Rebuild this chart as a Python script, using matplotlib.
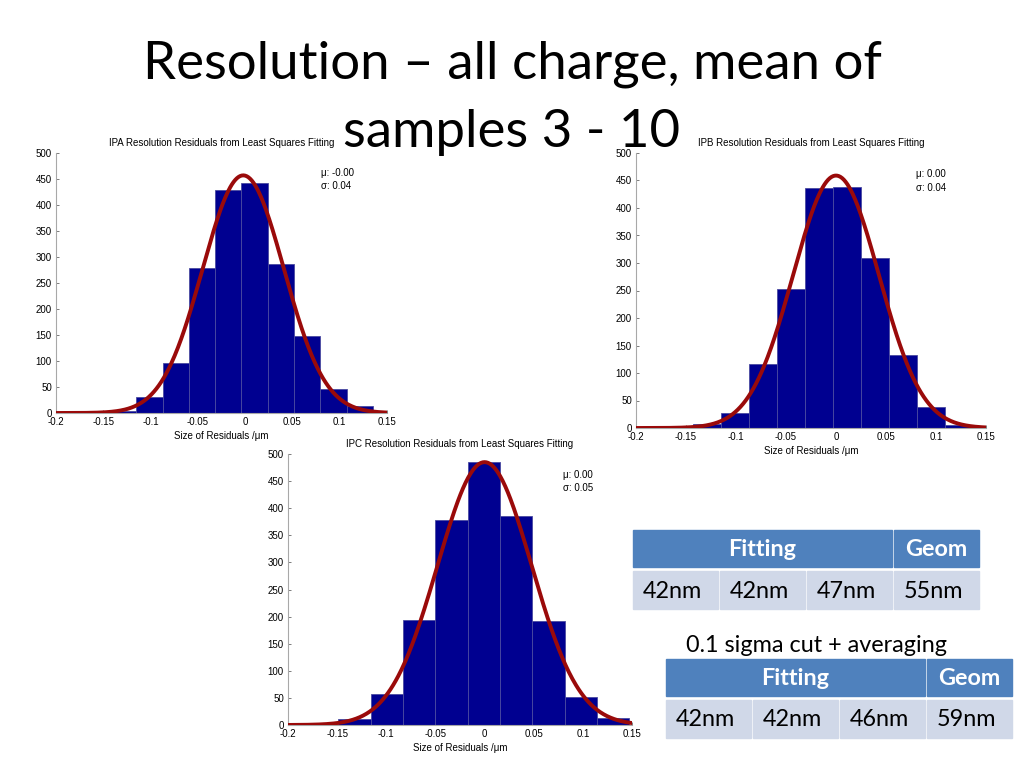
import numpy as np
import matplotlib
matplotlib.use("Agg")
import matplotlib.pyplot as plt
from matplotlib.patches import Rectangle

# ---------------- data ----------------
title_line1 = "Resolution \u2013 all charge, mean of"
title_line2 = "samples 3 - 10"

xtick_vals = [-0.2, -0.15, -0.1, -0.05, 0, 0.05, 0.1, 0.15]
xtick_labels = ["-0.2", "-0.15", "-0.1", "-0.05", "0", "0.05", "0.1", "0.15"]
ytick_vals = [0, 50, 100, 150, 200, 250, 300, 350, 400, 450, 500]

ipa_centers = [-0.1290, -0.1012, -0.0734, -0.0456, -0.0178, 0.0100, 0.0378, 0.0656, 0.0934, 0.1212]
ipa_counts = [4, 30, 96, 279, 428, 443, 286, 148, 46, 13]
ipa_fit = dict(peak=457, mu=-0.002, sigma=0.0430)
ipa_text = ["\u03bc: -0.00", "\u03c3: 0.04"]

ipb_centers = [-0.1294, -0.1014, -0.0734, -0.0454, -0.0174, 0.0106, 0.0386, 0.0666, 0.0946, 0.1226]
ipb_counts = [7, 28, 117, 252, 437, 439, 309, 132, 38, 6]
ipb_fit = dict(peak=459, mu=0.000, sigma=0.0429)
ipb_text = ["\u03bc: 0.00", "\u03c3: 0.04"]

ipc_centers = [-0.1324, -0.0995, -0.0666, -0.0337, -0.0008, 0.0321, 0.0650, 0.0979, 0.1308]
ipc_counts = [11, 58, 194, 379, 486, 386, 192, 52, 12]
ipc_fit = dict(peak=485, mu=0.000, sigma=0.0479)
ipc_text = ["\u03bc: 0.00", "\u03c3: 0.05"]

panel_titles = ["IPA Resolution Residuals from Least Squares Fitting",
                "IPB Resolution Residuals from Least Squares Fitting",
                "IPC Resolution Residuals from Least Squares Fitting"]
xlabel_text = "Size of Residuals /\u03bcm"

table_header = ["Fitting", "Geom"]
table1_values = ["42nm", "42nm", "47nm", "55nm"]
table2_values = ["42nm", "42nm", "46nm", "59nm"]
table2_caption = "0.1 sigma cut + averaging"

# ---------------- figure ----------------
W, H = 1024, 768
fig = plt.figure(figsize=(W / 100, H / 100), dpi=100)
fig.patch.set_facecolor("white")

small_font = "Liberation Sans"
slide_font = "Lato"
SMALL = 7.0

BAR_COLOR = "#000090"
EDGE_COLOR = "#4a4aa0"
CURVE_COLOR = "#9a0a0a"
AXIS_GREY = "#a8a8a8"


def px_rect(x0, y0, x1, y1):
    return [x0 / W, 1 - y1 / H, (x1 - x0) / W, (y1 - y0) / H]


def draw_panel(rect, centers, counts, fit, txt, title):
    ax = fig.add_axes(px_rect(*rect))
    centers = np.asarray(centers)
    width = np.mean(np.diff(centers))
    ax.bar(centers, counts, width=width, color=BAR_COLOR, edgecolor=EDGE_COLOR,
           linewidth=0.6, zorder=2)
    xs = np.linspace(-0.2, 0.15, 400)
    ys = fit["peak"] * np.exp(-0.5 * ((xs - fit["mu"]) / fit["sigma"]) ** 2)
    ax.plot(xs, ys, color=CURVE_COLOR, lw=2.8, zorder=3, solid_capstyle="round")
    ax.set_xlim(-0.2, 0.15)
    ax.set_ylim(0, 500)
    ax.set_xticks(xtick_vals)
    ax.set_xticklabels(xtick_labels)
    ax.set_yticks(ytick_vals)
    for s in ["top", "right"]:
        ax.spines[s].set_visible(False)
    for s in ["left", "bottom"]:
        ax.spines[s].set_color(AXIS_GREY)
        ax.spines[s].set_linewidth(0.8)
    ax.tick_params(direction="in", length=2.5, width=0.6, color="#666666",
                   labelsize=SMALL)
    ax.tick_params(axis="x", pad=3)
    ax.tick_params(axis="y", pad=3)
    for lab in ax.get_xticklabels() + ax.get_yticklabels():
        lab.set_fontfamily(small_font)
    ax.set_title(title, fontsize=SMALL, family=small_font, pad=5)
    ax.set_xlabel(xlabel_text, fontsize=SMALL, family=small_font, labelpad=3)
    ax.text(0.08, 462, txt[0], fontsize=SMALL, family=small_font, va="center")
    ax.text(0.08, 437, txt[1], fontsize=SMALL, family=small_font, va="center")
    ax.set_facecolor("none")
    return ax


draw_panel((56, 153, 387, 413), ipa_centers, ipa_counts, ipa_fit, ipa_text, panel_titles[0])
draw_panel((636, 153, 986, 428), ipb_centers, ipb_counts, ipb_fit, ipb_text, panel_titles[1])
draw_panel((288, 454, 632, 725), ipc_centers, ipc_counts, ipc_fit, ipc_text, panel_titles[2])

# overlay in pixel coordinates for slide title and tables
ov = fig.add_axes([0, 0, 1, 1], zorder=-1)
ov.set_xlim(0, W)
ov.set_ylim(H, 0)
ov.axis("off")

ov.text(512, 79, title_line1, fontsize=38, family=slide_font, ha="center", va="baseline")
ov.text(512, 147, title_line2, fontsize=38, family=slide_font, ha="center", va="baseline")

HEAD_C = "#4F81BD"
CELL_C = "#D0D8E8"
TFS = 16.8


def draw_table(x0, y0, values):
    cw, gap = 85, 2
    hh, rh = 37, 38
    fit_w = 3 * cw + 2 * gap
    ov.add_patch(Rectangle((x0, y0), fit_w, hh, color=HEAD_C))
    ov.add_patch(Rectangle((x0 + fit_w + gap, y0), cw, hh, color=HEAD_C))
    ov.text(x0 + fit_w / 2, y0 + hh / 2 + 1, table_header[0], fontsize=TFS,
            family=slide_font, weight="bold", color="white", ha="center", va="center")
    ov.text(x0 + fit_w + gap + cw / 2, y0 + hh / 2 + 1, table_header[1], fontsize=TFS,
            family=slide_font, weight="bold", color="white", ha="center", va="center")
    yr = y0 + hh + 4
    for i, v in enumerate(values):
        cx = x0 + i * (cw + gap)
        ov.add_patch(Rectangle((cx, yr), cw, rh, color=CELL_C))
        ov.text(cx + 10, yr + rh / 2 + 1, v, fontsize=TFS, family=slide_font,
                ha="left", va="center", color="black")


draw_table(633, 530, table1_values)
ov.text(817, 645, table2_caption, fontsize=TFS, family=slide_font, ha="center", va="center")
draw_table(666, 659, table2_values)

fig.savefig("out.png", dpi=100, facecolor="white")
